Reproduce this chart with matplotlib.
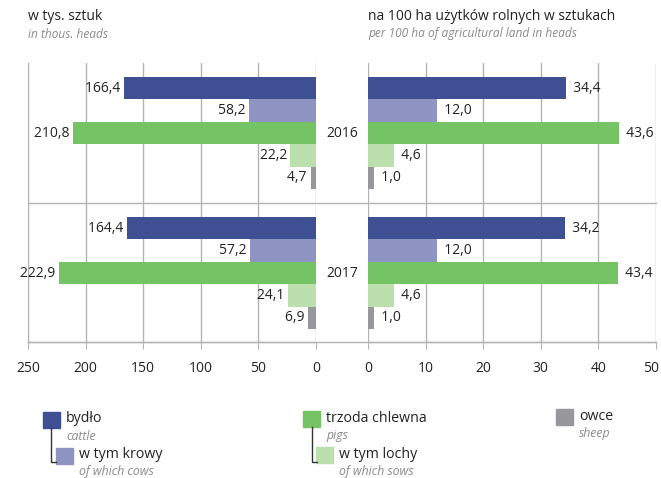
import matplotlib
matplotlib.use("Agg")
import matplotlib.pyplot as plt
from matplotlib.lines import Line2D
from matplotlib.patches import Rectangle
from matplotlib.transforms import ScaledTranslation

plt.rcParams["font.family"] = ["Open Sans", "DejaVu Sans"]

# ---- data --------------------------------------------------------------
years = ["2016", "2017"]
categories = ["bydło", "w tym krowy", "trzoda chlewna", "w tym lochy", "owce"]
categories_en = ["cattle", "of which cows", "pigs", "of which sows", "sheep"]
thous_2016 = [166.4, 58.2, 210.8, 22.2, 4.7]
thous_2017 = [164.4, 57.2, 222.9, 24.1, 6.9]
per100_2016 = [34.4, 12.0, 43.6, 4.6, 1.0]
per100_2017 = [34.2, 12.0, 43.4, 4.6, 1.0]
left_ticks = [250, 200, 150, 100, 50, 0]
right_ticks = [0, 10, 20, 30, 40, 50]

colors = ["#3f4f93", "#8f94c2", "#74c365", "#bcdfae", "#98989c"]
GRID = "#b4b4b4"
TXT = "#222222"
SUB = "#8a8a8a"

W, H = 661, 478
fig = plt.figure(figsize=(W / 100, H / 100), dpi=100)


def fx(px):
    return px / W


def fy(py):
    return 1 - py / H


top, bot = 63, 342
axL = fig.add_axes([fx(28), fy(bot), fx(316 - 28), (bot - top) / H])
axR = fig.add_axes([fx(368), fy(bot), fx(656 - 368), (bot - top) / H])

ymax = 12.45
group_gap = 6.25
first = 1.125


def fmt(v):
    return f"{v:.1f}".replace(".", ",")


for ax, data, lim, ticks, side in [
        (axL, [thous_2016, thous_2017], (250, 0), left_ticks, "L"),
        (axR, [per100_2016, per100_2017], (0, 50), right_ticks, "R")]:
    ax.set_xlim(*lim)
    ax.set_ylim(ymax, 0)
    for g, vals in enumerate(data):
        ys = [first + g * group_gap + i for i in range(len(vals))]
        ax.barh(ys, vals, height=1.0, color=colors, zorder=3)
        for y, v in zip(ys, vals):
            if side == "L":
                ax.text(v, y, fmt(v) + " ", ha="right", va="center",
                        fontsize=10, color=TXT, zorder=4)
            else:
                ax.text(v, y, "  " + fmt(v), ha="left", va="center",
                        fontsize=10, color=TXT, zorder=4)
    ax.set_xticks(ticks)
    ax.set_xticklabels([str(t) for t in ticks], fontsize=10, color=TXT)
    ax.set_yticks([])
    ax.grid(axis="x", color=GRID, lw=1, zorder=0)
    ax.tick_params(axis="x", length=5, color=GRID, pad=9)
    for s in ("top", "right", "left"):
        ax.spines[s].set_visible(False)
    ax.spines["bottom"].set_color(GRID)
    ax.spines["bottom"].set_linewidth(1)
    ax.set_facecolor("none")

axL.spines["left"].set_visible(True)
axL.spines["left"].set_color(GRID)

# keep the last right tick label inside the image
last = axR.get_xticklabels()[-1]
last.set_transform(last.get_transform()
                   + ScaledTranslation(-5 / 100, 0, fig.dpi_scale_trans))

# separators across both panels
sep_y = first - 0.5 + 5 + (group_gap - 5) / 2
sep_py = top + sep_y * (bot - top) / ymax
fig.add_artist(Line2D([fx(28), fx(656)], [fy(sep_py), fy(sep_py)],
                      color=GRID, lw=1))
fig.add_artist(Line2D([fx(28), fx(656)], [fy(bot), fy(bot)],
                      color=GRID, lw=1))

# year labels in the gap
for g, yr in enumerate(years):
    yc = first + g * group_gap + 2
    py = top + yc * (bot - top) / ymax
    fig.text(fx(342), fy(py), yr, ha="center", va="center",
             fontsize=10, color=TXT)

# panel titles
fig.text(fx(28), fy(17), "w tys. sztuk", fontsize=10, color=TXT, va="center")
fig.text(fx(28), fy(34), "in thous. heads", fontsize=8.6, color=SUB,
         style="italic", va="center")
fig.text(fx(368), fy(17), "na 100 ha użytków rolnych w sztukach",
         fontsize=10, color=TXT, va="center")
fig.text(fx(368), fy(34), "per 100 ha of agricultural land in heads",
         fontsize=8.6, color=SUB, style="italic", va="center")

# legend
legend_pos = [(43, 412), (56, 448), (303, 411), (316, 447), (556, 409)]
for (lx, ly), c, pl, en in zip(legend_pos, colors, categories, categories_en):
    fig.add_artist(Rectangle((fx(lx), fy(ly + 16)), fx(17), 16 / H,
                             color=c, transform=fig.transFigure))
    fig.text(fx(lx + 23), fy(ly + 7), pl, fontsize=10.2, color=TXT,
             va="center")
    fig.text(fx(lx + 23), fy(ly + 24), en, fontsize=8.8, color=SUB,
             style="italic", va="center")

for px, py0 in ((51, 428), (312, 427)):
    fig.add_artist(Line2D([fx(px), fx(px), fx(px + 5)],
                          [fy(py0), fy(462), fy(462)],
                          color="#333333", lw=1))

fig.savefig("out.png", dpi=100)
